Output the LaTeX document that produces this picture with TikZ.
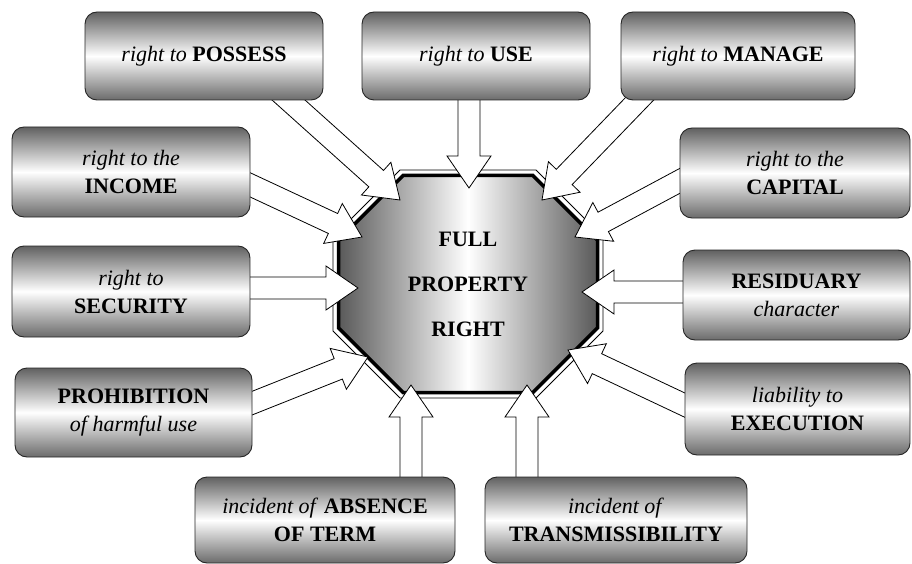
\documentclass[tikz,border=0pt]{standalone}
\usepackage{fontspec}
\setmainfont{Liberation Serif}
\usepackage{tikz}
\usetikzlibrary{calc}

\pgfdeclarelayer{front}
\pgfsetlayers{main,front}

% hollow arrow from a box to the octagon
\newcommand{\bigarrow}[2]{%
	\coordinate (ba-s) at ($(#1)!-15pt!(#2)$);
	\coordinate (ba-h) at ($(#2)!32pt!(#1)$);
	\draw[bigarrow] ($(ba-s)!11pt!90:(#2)$) -- ($(ba-h)!11pt!-90:(#1)$)
		-- ($(ba-h)!22pt!-90:(#1)$) -- (#2) -- ($(ba-h)!22pt!90:(#1)$)
		-- ($(ba-h)!11pt!90:(#1)$) -- ($(ba-s)!11pt!-90:(#2)$) -- cycle;}

\begin{document}
\begin{tikzpicture}[x=1pt,y=-1pt,
			box/.style={rectangle,rounded corners=12pt,draw=black!85,line width=0.9pt,
				top color=black!62,bottom color=black!58,middle color=white,
				inner sep=0pt,align=center,font=\fontsize{22}{28}\selectfont},
			bigarrow/.style={draw=black,fill=white,line width=0.8pt,line join=miter}]
		\useasboundingbox (0,0) rectangle (912,564);
		\begin{pgfonlayer}{front}
			\node[box,minimum width=238pt,minimum height=88pt] (possess) at (204,56)
				{\textit{right to} \textbf{POSSESS}};
			\node[box,minimum width=228pt,minimum height=88pt] (use) at (476,56)
				{\textit{right to} \textbf{USE}};
			\node[box,minimum width=234pt,minimum height=88pt] (manage) at (738,56)
				{\textit{right to} \textbf{MANAGE}};
			\node[box,minimum width=238pt,minimum height=90pt] (income) at (131,172)
				{\textit{right to the}\\\textbf{INCOME}};
			\node[box,minimum width=238pt,minimum height=91pt] (security) at (131,291.5)
				{\textit{right to}\\\textbf{SECURITY}};
			\node[box,minimum width=237pt,minimum height=89pt] (prohibition) at (133.5,412.5)
				{\textbf{PROHIBITION}\\\textit{of harmful use}};
			\node[box,minimum width=230pt,minimum height=90pt] (capital) at (795,173)
				{\textit{right to the}\\\textbf{CAPITAL}};
			\node[box,minimum width=227pt,minimum height=90pt] (residuary) at (796.5,295)
				{\textbf{RESIDUARY}\\\textit{character}};
			\node[box,minimum width=225pt,minimum height=92pt] (execution) at (797.5,409)
				{\textit{liability to}\\\textbf{EXECUTION}};
			\node[box,minimum width=260pt,minimum height=86pt] (absence) at (325,520)
				{\textit{incident of} \textbf{ABSENCE}\\\textbf{OF TERM}};
			\node[box,minimum width=262pt,minimum height=86pt] (transmiss) at (616,520)
				{\textit{incident of}\\\textbf{TRANSMISSIBILITY}};
		\end{pgfonlayer}

		% the octagon
		\begin{scope}[shift={(468,284)}]
			\filldraw[fill=white,line width=0.8pt] (-135,-47) -- (-68,-114) -- (68,-114) -- (135,-47)
				-- (135,47) -- (68,114) -- (-68,114) -- (-135,47) -- cycle;
			\shadedraw[left color=black!65,right color=black!65,middle color=white,line width=3.5pt]
				(-129.5,-43.8) -- (-64.8,-108.5) -- (64.8,-108.5) -- (129.5,-43.8)
				-- (129.5,43.8) -- (64.8,108.5) -- (-64.8,108.5) -- (-129.5,43.8) -- cycle;
		\end{scope}
		\node[align=center,font=\bfseries\fontsize{22}{45}\selectfont] (full) at (468,284)
			{FULL\\PROPERTY\\RIGHT};

		\coordinate (possess-out) at ([xshift=85pt]possess.south);
		\coordinate (use-out) at ([xshift=-7pt]use.south);
		\coordinate (manage-out) at ([xshift=-100pt]manage.south);
		\coordinate (income-out) at ([yshift=-13pt]income.east);
		\coordinate (security-out) at ([yshift=3.5pt]security.east);
		\coordinate (prohibition-out) at ([yshift=9.5pt]prohibition.east);
		\coordinate (capital-out) at ([yshift=-8pt]capital.west);
		\coordinate (residuary-out) at ([yshift=3pt]residuary.west);
		\coordinate (execution-out) at ([yshift=4pt]execution.west);
		\coordinate (absence-out) at ([xshift=86pt]absence.north);
		\coordinate (transmiss-out) at ([xshift=-89pt]transmiss.north);

		\coordinate (possess-in) at (400,200);
		\coordinate (use-in) at (469,188);
		\coordinate (manage-in) at (542,200);
		\coordinate (income-in) at (362,237);
		\coordinate (security-in) at (358,288);
		\coordinate (prohibition-in) at (368,357);
		\coordinate (capital-in) at (575,237);
		\coordinate (residuary-in) at (582,292);
		\coordinate (execution-in) at (568,350);
		\coordinate (absence-in) at (411,385);
		\coordinate (transmiss-in) at (527,385);

		\bigarrow{possess-out}{possess-in}
		\bigarrow{use-out}{use-in}
		\bigarrow{manage-out}{manage-in}
		\bigarrow{income-out}{income-in}
		\bigarrow{security-out}{security-in}
		\bigarrow{prohibition-out}{prohibition-in}
		\bigarrow{capital-out}{capital-in}
		\bigarrow{residuary-out}{residuary-in}
		\bigarrow{execution-out}{execution-in}
		\bigarrow{absence-out}{absence-in}
		\bigarrow{transmiss-out}{transmiss-in}
\end{tikzpicture}
\end{document}
